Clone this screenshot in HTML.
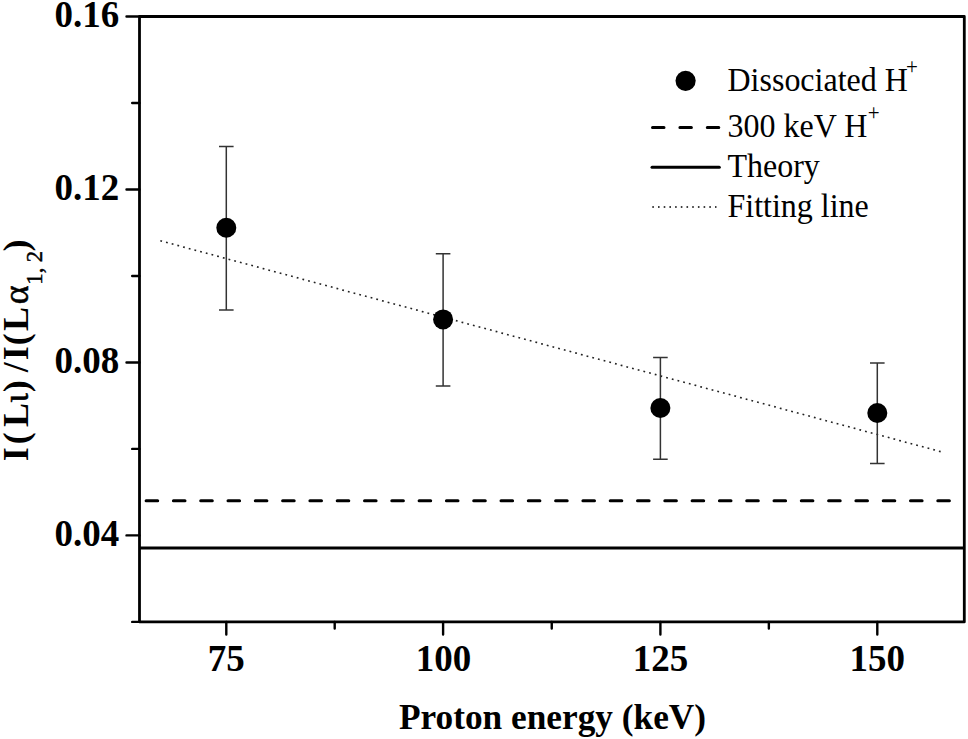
<!DOCTYPE html>
<html><head><meta charset="utf-8">
<style>
html,body{margin:0;padding:0;background:#fff;}
body{width:968px;height:739px;overflow:hidden;}
svg{display:block;}
text{font-family:"Liberation Serif",serif;fill:#000;}
.b{font-weight:bold;}
</style></head>
<body>
<svg width="968" height="739" viewBox="0 0 968 739">
<rect width="968" height="739" fill="#fff"/>
<!-- fitting line -->
<line x1="160.33" y1="240.77" x2="940.67" y2="451.64" stroke="#222" stroke-width="1.6" stroke-dasharray="1.8 4.087" stroke-linecap="butt"/>
<!-- dashed 300keV -->
<line x1="144.6" y1="500.8" x2="952" y2="500.8" stroke="#000" stroke-width="3" stroke-dasharray="11.6 15.7" stroke-linecap="round" transform="translate(1.5,0)"/>
<!-- theory -->
<line x1="139.5" y1="548" x2="964.3" y2="548" stroke="#000" stroke-width="3"/>
<!-- error bars -->
<g stroke="#333" stroke-width="1.5" fill="none">
<path d="M226.3 146.6V310M219 146.6H233.6M219 310H233.6"/>
<path d="M443.1 253.8V386M435.8 253.8H450.4M435.8 386H450.4"/>
<path d="M660.4 357.6V459.2M653.1 357.6H667.7M653.1 459.2H667.7"/>
<path d="M877.3 363.1V463.6M870 363.1H884.6M870 463.6H884.6"/>
</g>
<g fill="#000">
<circle cx="226.3" cy="227.8" r="10"/>
<circle cx="443.1" cy="319.4" r="10"/>
<circle cx="660.4" cy="408" r="10"/>
<circle cx="877.3" cy="413" r="10"/>
</g>
<!-- frame -->
<rect x="139.5" y="16.5" width="824.8" height="605.4" fill="none" stroke="#000" stroke-width="2.8" stroke-linejoin="round"/>
<!-- ticks -->
<g stroke="#000" stroke-width="2.4" stroke-linecap="round">
<path d="M126.5 16.5H139.5M126.5 189.5H139.5M126.5 362.45H139.5M126.5 535.4H139.5"/>
<path d="M132.2 102.97H139.5M132.2 275.97H139.5M132.2 448.9H139.5M132.2 621.9H139.5"/>
<path d="M226.3 621.9V634.5M443.1 621.9V634.5M660.4 621.9V634.5M877.3 621.9V634.5"/>
<path d="M334.7 621.9V628.5M551.75 621.9V628.5M768.85 621.9V628.5"/>
</g>
<!-- tick labels -->
<g class="b" font-size="37" text-anchor="end">
<text x="119.3" y="27">0.16</text>
<text x="119.3" y="200">0.12</text>
<text x="119.3" y="373">0.08</text>
<text x="119.3" y="546">0.04</text>
</g>
<g class="b" font-size="37" text-anchor="middle">
<text x="226.3" y="670.8">75</text>
<text x="443.6" y="670.8">100</text>
<text x="660.4" y="670.8">125</text>
<text x="877.3" y="670.8">150</text>
</g>
<text class="b" font-size="35.3" x="552.5" y="729" text-anchor="middle">Proton energy (keV)</text>
<!-- y label -->
<text class="b" font-size="36" transform="translate(28.2,462) rotate(-90)"><tspan x="0.7" y="0">I</tspan><tspan x="17.65" y="0">(</tspan><tspan x="34.98" y="0">L</tspan><tspan x="59.2" y="0" font-weight="normal" style="stroke:#000;stroke-width:0.5px">ι</tspan><tspan x="69.87" y="0">)</tspan><tspan x="89.66" y="0">/</tspan><tspan x="101.66" y="0">I</tspan><tspan x="116.87" y="0">(</tspan><tspan x="130.91" y="0">L</tspan><tspan x="157.72" y="0" font-weight="normal" font-size="36" style="stroke:#000;stroke-width:0.5px">α</tspan><tspan font-weight="normal" font-size="22.5" y="13.4" style="stroke:#000;stroke-width:0.45px" x="177.22">1</tspan><tspan font-weight="normal" font-size="22.5" y="13.4" style="stroke:#000;stroke-width:0.45px" x="188.77">,</tspan><tspan font-weight="normal" font-size="22.5" y="13.4" style="stroke:#000;stroke-width:0.45px" x="199.72">2</tspan><tspan x="210.57" y="0">)</tspan></text>
<!-- legend -->
<circle cx="685.6" cy="80.8" r="10.1" fill="#000"/>
<line x1="652.5" y1="127.5" x2="720" y2="127.5" stroke="#000" stroke-width="3" stroke-dasharray="11.5 15.9" stroke-linecap="round"/>
<line x1="652" y1="167.3" x2="719.3" y2="167.3" stroke="#000" stroke-width="3" stroke-linecap="round"/>
<line x1="652.3" y1="207" x2="716.5" y2="207" stroke="#000" stroke-width="1.5" stroke-dasharray="1.6 4.1"/>
<g font-size="32">
<text x="727.5" y="90.8" transform="translate(0 90.8) scale(1 1.05) translate(0 -90.8)">Dissociated H<tspan font-size="21" dx="-1.8" dy="-16.3">+</tspan></text>
<text x="727.5" y="137.5" transform="translate(0 137.5) scale(1 1.05) translate(0 -137.5)">300 keV H<tspan font-size="21" dx="0.5" dy="-16.3">+</tspan></text>
<text x="727.5" y="176.6" transform="translate(0 176.6) scale(1 1.05) translate(0 -176.6)">Theory</text>
<text x="727.5" y="216.6" transform="translate(0 216.6) scale(1 1.05) translate(0 -216.6)">Fitting line</text>
</g>
</svg>
</body></html>
